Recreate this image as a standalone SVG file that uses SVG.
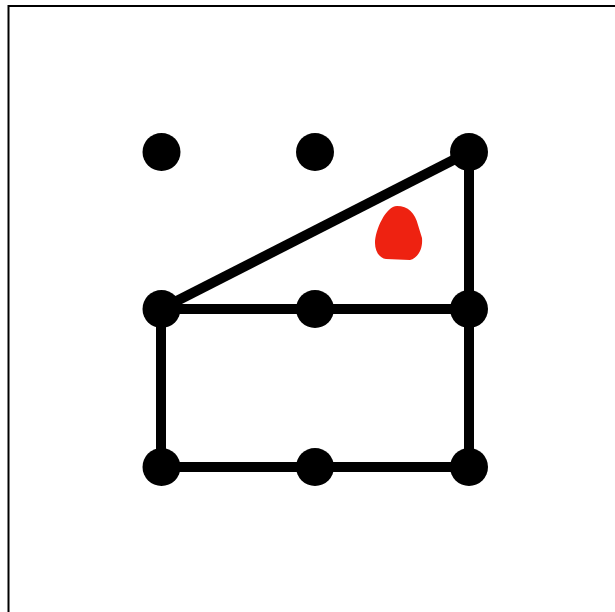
<svg xmlns="http://www.w3.org/2000/svg" width="615" height="612" viewBox="0 0 615 612">
<style>
.dot{fill:#000}
.edge{stroke:#000;stroke-width:10;fill:none;stroke-linecap:butt}
</style>
<rect x="0" y="0" width="615" height="612" fill="#fff"/>
<path d="M8.5 620 V6 H620" fill="none" stroke="#000" stroke-width="2"/>
<g id="connectors">
<line class="edge" x1="161" y1="309" x2="469" y2="152"/>
<line class="edge" x1="469" y1="152" x2="469" y2="467"/>
<line class="edge" x1="161" y1="309" x2="469" y2="309"/>
<line class="edge" x1="161" y1="309" x2="161" y2="467"/>
<line class="edge" x1="161" y1="467" x2="469" y2="467"/>
</g>
<g id="n1"><circle class="dot" cx="161.5" cy="152" r="19"/></g>
<g id="n2"><circle class="dot" cx="315" cy="152" r="19"/></g>
<g id="n3"><circle class="dot" cx="469" cy="152" r="19"/></g>
<g id="n4"><circle class="dot" cx="161.5" cy="309" r="19"/></g>
<g id="n5"><circle class="dot" cx="315" cy="309" r="19"/></g>
<g id="n6"><circle class="dot" cx="469" cy="309" r="19"/></g>
<g id="n7"><circle class="dot" cx="161.5" cy="467" r="19"/></g>
<g id="n8"><circle class="dot" cx="315" cy="467" r="19"/></g>
<g id="n9"><circle class="dot" cx="469" cy="467" r="19"/></g>
<path id="blob" d="M397 206 C408 206 415 213 418 225 L422 238 C423 249 418 258 410 260 L386 259 C379 258 375 251 375 243 C375 230 386 206 397 206 Z" fill="#ee2211"/>
</svg>
